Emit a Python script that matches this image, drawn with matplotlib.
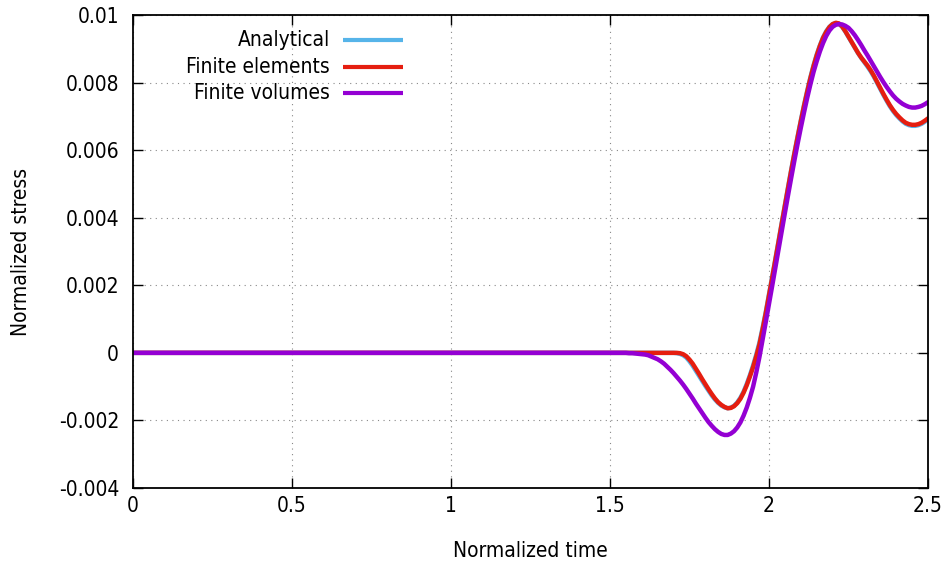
import matplotlib
matplotlib.use("Agg")
import matplotlib.pyplot as plt

# Normalized time samples
t = [0.0, 0.5, 1.0, 1.5, 1.55, 1.56, 1.57, 1.58, 1.59,
     1.60, 1.61, 1.62, 1.63, 1.64, 1.65, 1.66, 1.67, 1.68, 1.69,
     1.70, 1.71, 1.72, 1.73, 1.74, 1.75, 1.76, 1.77, 1.78, 1.79,
     1.80, 1.81, 1.82, 1.83, 1.84, 1.85, 1.86, 1.87, 1.88, 1.89,
     1.90, 1.91, 1.92, 1.93, 1.94, 1.95, 1.96, 1.97, 1.98, 1.99,
     2.00, 2.01, 2.02, 2.03, 2.04, 2.05, 2.06, 2.07, 2.08, 2.09,
     2.10, 2.11, 2.12, 2.13, 2.14, 2.15, 2.16, 2.17, 2.18, 2.19,
     2.20, 2.21, 2.22, 2.23, 2.24, 2.25, 2.26, 2.27, 2.28, 2.29,
     2.30, 2.31, 2.32, 2.33, 2.34, 2.35, 2.36, 2.37, 2.38, 2.39,
     2.40, 2.41, 2.42, 2.43, 2.44, 2.45, 2.46, 2.47, 2.48, 2.49, 2.50]

# Normalized stress (x 1e-3)
analytical = [0, 0, 0, 0, 0, 0, 0, 0, 0,
              0, 0, 0, 0, 0, 0, 0, 0, 0, 0,
              0, -0.01, -0.03, -0.07, -0.14, -0.25, -0.38, -0.53, -0.68, -0.83,
              -0.98, -1.12, -1.26, -1.38, -1.48, -1.56, -1.61, -1.64, -1.62, -1.57,
              -1.47, -1.33, -1.15, -0.92, -0.66, -0.37, -0.05, 0.31, 0.75, 1.22,
              1.74, 2.25, 2.78, 3.31, 3.85, 4.38, 4.91, 5.43, 5.93, 6.41,
              6.88, 7.33, 7.75, 8.15, 8.51, 8.83, 9.10, 9.34, 9.52, 9.65,
              9.73, 9.76, 9.74, 9.65, 9.51, 9.35, 9.19, 9.03, 8.87, 8.73,
              8.60, 8.47, 8.33, 8.17, 7.99, 7.81, 7.63, 7.46, 7.30, 7.16,
              7.04, 6.94, 6.85, 6.78, 6.74, 6.72, 6.72, 6.74, 6.78, 6.84, 6.91]
finite_elements = [0, 0, 0, 0, 0, 0, 0, 0, 0,
                   0, 0, 0, 0, 0, 0, 0, 0, 0, 0,
                   0, 0, -0.01, -0.04, -0.10, -0.20, -0.32, -0.47, -0.62, -0.78,
                   -0.93, -1.08, -1.22, -1.35, -1.46, -1.54, -1.60, -1.64, -1.63, -1.58,
                   -1.49, -1.36, -1.18, -0.96, -0.70, -0.42, -0.10, 0.25, 0.70, 1.18,
                   1.70, 2.22, 2.75, 3.28, 3.82, 4.35, 4.88, 5.40, 5.90, 6.38,
                   6.85, 7.30, 7.72, 8.12, 8.48, 8.80, 9.08, 9.32, 9.50, 9.64,
                   9.73, 9.77, 9.75, 9.66, 9.52, 9.36, 9.20, 9.04, 8.88, 8.74,
                   8.62, 8.50, 8.36, 8.20, 8.02, 7.84, 7.66, 7.49, 7.33, 7.19,
                   7.07, 6.97, 6.88, 6.81, 6.77, 6.75, 6.75, 6.77, 6.81, 6.87, 6.94]
finite_volumes = [0, 0, 0, 0, 0, -0.01, -0.01, -0.02, -0.03,
                  -0.04, -0.05, -0.07, -0.11, -0.15, -0.19, -0.25, -0.32, -0.41, -0.50,
                  -0.60, -0.71, -0.82, -0.94, -1.07, -1.21, -1.35, -1.50, -1.64, -1.78,
                  -1.92, -2.05, -2.16, -2.26, -2.34, -2.40, -2.43, -2.43, -2.39, -2.32,
                  -2.21, -2.06, -1.86, -1.62, -1.33, -1.00, -0.58, -0.12, 0.40, 0.92,
                  1.45, 1.98, 2.52, 3.06, 3.60, 4.14, 4.67, 5.19, 5.70, 6.19,
                  6.66, 7.11, 7.54, 7.94, 8.31, 8.63, 8.92, 9.17, 9.38, 9.54,
                  9.65, 9.71, 9.73, 9.72, 9.68, 9.62, 9.52, 9.40, 9.26, 9.11,
                  8.95, 8.80, 8.64, 8.48, 8.32, 8.16, 8.01, 7.87, 7.74, 7.62,
                  7.52, 7.44, 7.37, 7.32, 7.28, 7.26, 7.26, 7.28, 7.31, 7.36, 7.42]

series_names = ["Analytical", "Finite elements", "Finite volumes"]
series_colors = ["#56B4E9", "#E51E10", "#9400D3"]
x_ticks = [0, 0.5, 1, 1.5, 2, 2.5]
x_tick_labels = ["0", "0.5", "1", "1.5", "2", "2.5"]
y_ticks = [-0.004, -0.002, 0, 0.002, 0.004, 0.006, 0.008, 0.01]
y_tick_labels = ["-0.004", "-0.002", "0", "0.002", "0.004", "0.006", "0.008", "0.01"]

plt.rcParams['font.family'] = ['DejaVu Sans']
plt.rcParams['font.stretch'] = 'condensed'
FS = 15

fig = plt.figure(figsize=(9.5, 5.71), dpi=100)
ax = fig.add_axes([133/950, 1-488/571, 795/950, 473/571])

data = [analytical, finite_elements, finite_volumes]
for vals, name, col in zip(data, series_names, series_colors):
    ax.plot(t, [v * 1e-3 for v in vals], color=col, lw=3.2, label=name,
            solid_capstyle='round', solid_joinstyle='round')

ax.set_xlim(0, 2.5)
ax.set_ylim(-0.004, 0.01)
ax.set_xticks(x_ticks)
ax.set_xticklabels(x_tick_labels)
ax.set_yticks(y_ticks)
ax.set_yticklabels(y_tick_labels)
ax.tick_params(direction='in', length=7, width=1, top=True, right=True,
               labelsize=FS, colors='black')
ax.tick_params(axis='x', pad=6)
ax.tick_params(axis='y', pad=10)
ax.grid(True, color='#888888', linestyle=(0, (1, 4)), linewidth=0.8)
for s in ax.spines.values():
    s.set_linewidth(1.3)

ax.set_xlabel("Normalized time", fontsize=FS)
ax.set_ylabel("Normalized stress", fontsize=FS)
ax.xaxis.set_label_coords(0.5, -0.112)
ax.yaxis.set_label_coords(-0.128, 0.5)

# gnuplot-style key: right-justified labels with line samples
rows_py = [40, 66.7, 93.3]
for py, name, col in zip(rows_py, series_names, series_colors):
    ya = (488 - py) / 473
    ax.text((330 - 133) / 795, ya, name, transform=ax.transAxes, ha='right',
            va='center', fontsize=FS)
    ax.plot([(343 - 133) / 795, (403 - 133) / 795], [ya, ya], color=col, lw=3.0,
            transform=ax.transAxes, solid_capstyle='butt')

fig.savefig("out.png", dpi=100)
